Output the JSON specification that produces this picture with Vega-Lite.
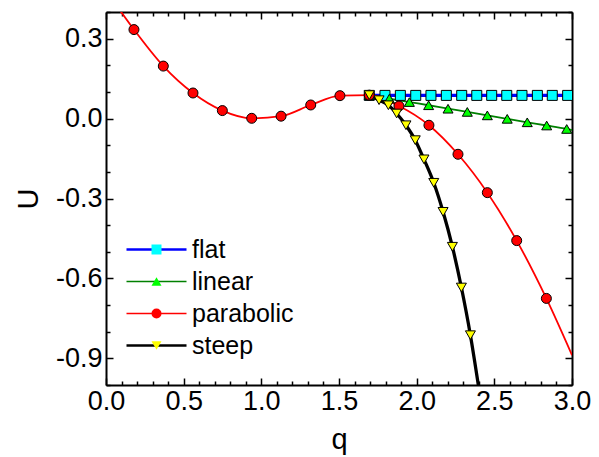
{
  "$schema": "https://vega.github.io/schema/vega-lite/v6.json",
  "width": 466,
  "height": 373,
  "autosize": {"type": "none"},
  "padding": {"left": 106, "top": 12, "right": 27, "bottom": 72},
  "background": "white",
  "config": {
    "view": {"stroke": null},
    "font": "Liberation Sans",
    "axis": {
      "grid": false,
      "domainColor": "#000000",
      "domainWidth": 2,
      "tickColor": "#000000",
      "tickWidth": 1.5,
      "labelFont": "Liberation Sans",
      "labelFontSize": 27,
      "labelColor": "#000000",
      "labelOverlap": false,
      "labelFlush": false,
      "titleFont": "Liberation Sans",
      "titleFontSize": 29,
      "titleFontWeight": "normal",
      "titleColor": "#000000"
    }
  },
  "datasets": {
    "curves": [
      {"series": "flat", "q": 1.695, "U": 0.087},
      {"series": "flat", "q": 3.0, "U": 0.087},
      {"series": "linear", "q": 1.695, "U": 0.088},
      {"series": "linear", "q": 1.824, "U": 0.075},
      {"series": "linear", "q": 1.953, "U": 0.062},
      {"series": "linear", "q": 2.077, "U": 0.05},
      {"series": "linear", "q": 2.202, "U": 0.037},
      {"series": "linear", "q": 2.326, "U": 0.025},
      {"series": "linear", "q": 2.455, "U": 0.012},
      {"series": "linear", "q": 2.583, "U": -0.001},
      {"series": "linear", "q": 2.712, "U": -0.014},
      {"series": "linear", "q": 2.837, "U": -0.026},
      {"series": "linear", "q": 2.966, "U": -0.039},
      {"series": "linear", "q": 3.0, "U": -0.043},
      {"series": "parabolic", "q": 0.095, "U": 0.402},
      {"series": "parabolic", "q": 0.18, "U": 0.334},
      {"series": "parabolic", "q": 0.369, "U": 0.197},
      {"series": "parabolic", "q": 0.56, "U": 0.096},
      {"series": "parabolic", "q": 0.749, "U": 0.03},
      {"series": "parabolic", "q": 0.938, "U": 0.001},
      {"series": "parabolic", "q": 1.127, "U": 0.009},
      {"series": "parabolic", "q": 1.318, "U": 0.051},
      {"series": "parabolic", "q": 1.506, "U": 0.086},
      {"series": "parabolic", "q": 1.695, "U": 0.088},
      {"series": "parabolic", "q": 1.886, "U": 0.047},
      {"series": "parabolic", "q": 2.079, "U": -0.025},
      {"series": "parabolic", "q": 2.266, "U": -0.134},
      {"series": "parabolic", "q": 2.455, "U": -0.278},
      {"series": "parabolic", "q": 2.644, "U": -0.458},
      {"series": "parabolic", "q": 2.835, "U": -0.675},
      {"series": "parabolic", "q": 3.0, "U": -0.888},
      {"series": "steep", "q": 1.695, "U": 0.088},
      {"series": "steep", "q": 1.758, "U": 0.069},
      {"series": "steep", "q": 1.818, "U": 0.05},
      {"series": "steep", "q": 1.871, "U": 0.019},
      {"series": "steep", "q": 1.931, "U": -0.025},
      {"series": "steep", "q": 1.991, "U": -0.081},
      {"series": "steep", "q": 2.047, "U": -0.153},
      {"series": "steep", "q": 2.11, "U": -0.241},
      {"series": "steep", "q": 2.17, "U": -0.35},
      {"series": "steep", "q": 2.23, "U": -0.481},
      {"series": "steep", "q": 2.288, "U": -0.634},
      {"series": "steep", "q": 2.346, "U": -0.813},
      {"series": "steep", "q": 2.397, "U": -1.0}
    ],
    "markers": [
      {"series": "flat", "q": 1.695, "U": 0.087},
      {"series": "flat", "q": 1.796, "U": 0.087},
      {"series": "flat", "q": 1.895, "U": 0.087},
      {"series": "flat", "q": 1.994, "U": 0.087},
      {"series": "flat", "q": 2.092, "U": 0.087},
      {"series": "flat", "q": 2.191, "U": 0.087},
      {"series": "flat", "q": 2.29, "U": 0.087},
      {"series": "flat", "q": 2.387, "U": 0.087},
      {"series": "flat", "q": 2.483, "U": 0.087},
      {"series": "flat", "q": 2.58, "U": 0.087},
      {"series": "flat", "q": 2.678, "U": 0.087},
      {"series": "flat", "q": 2.777, "U": 0.087},
      {"series": "flat", "q": 2.873, "U": 0.087},
      {"series": "flat", "q": 2.972, "U": 0.087},
      {"series": "linear", "q": 1.695, "U": 0.088},
      {"series": "linear", "q": 1.824, "U": 0.075},
      {"series": "linear", "q": 1.953, "U": 0.062},
      {"series": "linear", "q": 2.077, "U": 0.05},
      {"series": "linear", "q": 2.202, "U": 0.037},
      {"series": "linear", "q": 2.326, "U": 0.025},
      {"series": "linear", "q": 2.455, "U": 0.012},
      {"series": "linear", "q": 2.583, "U": -0.001},
      {"series": "linear", "q": 2.712, "U": -0.014},
      {"series": "linear", "q": 2.837, "U": -0.026},
      {"series": "linear", "q": 2.966, "U": -0.039},
      {"series": "parabolic", "q": 0.18, "U": 0.334},
      {"series": "parabolic", "q": 0.369, "U": 0.197},
      {"series": "parabolic", "q": 0.56, "U": 0.096},
      {"series": "parabolic", "q": 0.749, "U": 0.03},
      {"series": "parabolic", "q": 0.938, "U": 0.001},
      {"series": "parabolic", "q": 1.127, "U": 0.009},
      {"series": "parabolic", "q": 1.318, "U": 0.051},
      {"series": "parabolic", "q": 1.506, "U": 0.086},
      {"series": "parabolic", "q": 1.695, "U": 0.088},
      {"series": "parabolic", "q": 1.886, "U": 0.047},
      {"series": "parabolic", "q": 2.079, "U": -0.025},
      {"series": "parabolic", "q": 2.266, "U": -0.134},
      {"series": "parabolic", "q": 2.455, "U": -0.278},
      {"series": "parabolic", "q": 2.644, "U": -0.458},
      {"series": "parabolic", "q": 2.835, "U": -0.675},
      {"series": "steep", "q": 1.695, "U": 0.088},
      {"series": "steep", "q": 1.758, "U": 0.069},
      {"series": "steep", "q": 1.818, "U": 0.05},
      {"series": "steep", "q": 1.871, "U": 0.019},
      {"series": "steep", "q": 1.931, "U": -0.025},
      {"series": "steep", "q": 1.991, "U": -0.081},
      {"series": "steep", "q": 2.047, "U": -0.153},
      {"series": "steep", "q": 2.11, "U": -0.241},
      {"series": "steep", "q": 2.17, "U": -0.35},
      {"series": "steep", "q": 2.23, "U": -0.481},
      {"series": "steep", "q": 2.288, "U": -0.634},
      {"series": "steep", "q": 2.346, "U": -0.813}
    ]
  },
  "layer": [
    {
      "data": {"name": "curves"},
      "transform": [{"filter": "datum.series === 'flat' || datum.series === 'steep'"}],
      "mark": {"type": "line", "interpolate": "monotone", "clip": true, "strokeWidth": 3.3},
      "encoding": {
        "x": {
          "field": "q", "type": "quantitative",
          "scale": {"domain": [0, 3], "nice": false, "zero": false},
          "axis": {
            "orient": "bottom",
            "values": [0,0.1,0.2,0.3,0.4,0.5,0.6,0.7,0.8,0.9,1,1.1,1.2,1.3,1.4,1.5,1.6,1.7,1.8,1.9,2,2.1,2.2,2.3,2.4,2.5,2.6,2.7,2.8,2.9,3],
            "labelExpr": "abs(datum.value*2-round(datum.value*2))<0.001 ? format(datum.value,'.1f') : ''",
            "tickSize": {"condition": {"test": "abs(datum.value*2-round(datum.value*2))<0.001", "value": -7}, "value": -4},
            "labelPadding": 10,
            "title": "q",
            "titleY": 63,
            "titleBaseline": "alphabetic"
          }
        },
        "y": {
          "field": "U", "type": "quantitative",
          "scale": {"domain": [-1, 0.4], "nice": false, "zero": false},
          "axis": {
            "orient": "left",
            "values": [-1,-0.9,-0.8,-0.7,-0.6,-0.5,-0.4,-0.3,-0.2,-0.1,0,0.1,0.2,0.3,0.4],
            "labelExpr": "abs(datum.value/0.3-round(datum.value/0.3))<0.01 ? (datum.value<0 ? '-' + format(-datum.value,'.1f') : format(datum.value,'.1f')) : ''",
            "tickSize": {"condition": {"test": "abs(datum.value/0.3-round(datum.value/0.3))<0.01", "value": -7}, "value": -4},
            "labelPadding": 11,
            "title": "U",
            "titleAngle": -90,
            "titleAlign": "center",
            "titleBaseline": "alphabetic",
            "titleX": -69,
            "titleY": 186.5
          }
        },
        "stroke": {
          "field": "series", "type": "nominal",
          "scale": {"range": ["#0000FF", "#008000", "#FF0000", "#000000"]},
          "legend": {
            "orient": "none", "legendX": 38, "legendY": 225, "title": null, "padding": 0,
            "labelFont": "Liberation Sans", "labelFontSize": 25, "labelColor": "#000000", "labelOffset": 23,
            "symbolType": "stroke", "symbolSize": 3600, "symbolStrokeWidth": 2, "rowPadding": 6, "zindex": 1,
            "encode": {"symbols": {"update": {"strokeWidth": {"signal": "datum.value==='flat'||datum.value==='steep' ? 2.5 : 1.5"}}}}
          }
        }
      }
    },
    {
      "data": {"name": "curves"},
      "transform": [{"filter": "datum.series === 'linear' || datum.series === 'parabolic'"}],
      "mark": {"type": "line", "interpolate": "monotone", "clip": true, "strokeWidth": 1.8},
      "encoding": {
        "x": {"field": "q", "type": "quantitative", "scale": {"domain": [0, 3], "nice": false, "zero": false}, "axis": null},
        "y": {"field": "U", "type": "quantitative", "scale": {"domain": [-1, 0.4], "nice": false, "zero": false}, "axis": null},
        "stroke": {"field": "series", "type": "nominal"}
      }
    },
    {
      "data": {"name": "markers"},
      "mark": {"type": "point", "filled": true, "size": 100, "stroke": "#000000", "strokeWidth": 1, "opacity": 1, "clip": true},
      "encoding": {
        "x": {
          "field": "q", "type": "quantitative",
          "scale": {"domain": [0, 3], "nice": false, "zero": false},
          "axis": {
            "orient": "top",
            "values": [0,0.1,0.2,0.3,0.4,0.5,0.6,0.7,0.8,0.9,1,1.1,1.2,1.3,1.4,1.5,1.6,1.7,1.8,1.9,2,2.1,2.2,2.3,2.4,2.5,2.6,2.7,2.8,2.9,3],
            "labels": false,
            "tickSize": {"condition": {"test": "abs(datum.value*2-round(datum.value*2))<0.001", "value": -7}, "value": -4},
            "title": null
          }
        },
        "y": {
          "field": "U", "type": "quantitative",
          "scale": {"domain": [-1, 0.4], "nice": false, "zero": false},
          "axis": {
            "orient": "right",
            "values": [-1,-0.9,-0.8,-0.7,-0.6,-0.5,-0.4,-0.3,-0.2,-0.1,0,0.1,0.2,0.3,0.4],
            "labels": false,
            "tickSize": {"condition": {"test": "abs(datum.value/0.3-round(datum.value/0.3))<0.01", "value": -7}, "value": -4},
            "title": null
          }
        },
        "fill": {
          "field": "series", "type": "nominal",
          "scale": {"range": ["#00FFFF", "#00FF00", "#FF0000", "#FFFF00"]},
          "legend": {
            "orient": "none", "legendX": 38, "legendY": 225, "title": null, "padding": 0,
            "labelFont": "Liberation Sans", "labelFontSize": 25, "labelColor": "transparent", "labelOffset": 23,
            "symbolSize": 100, "symbolStrokeColor": "#000000", "symbolStrokeWidth": 1, "rowPadding": 6, "zindex": 2,
            "encode": {"symbols": {"update": {"stroke": {"value": "#000000"}, "strokeWidth": {"value": 1}}}}
          }
        },
        "shape": {
          "field": "series", "type": "nominal",
          "scale": {"range": ["square", "triangle-up", "circle", "triangle-down"]},
          "legend": {
            "orient": "none", "legendX": 38, "legendY": 225, "title": null, "padding": 0,
            "labelFont": "Liberation Sans", "labelFontSize": 25, "labelColor": "transparent", "labelOffset": 23,
            "symbolSize": 100, "symbolStrokeColor": "#000000", "symbolStrokeWidth": 1, "rowPadding": 6, "zindex": 2,
            "encode": {"symbols": {"update": {"stroke": {"value": "#000000"}, "strokeWidth": {"value": 1}}}}
          }
        }
      }
    }
  ],
  "resolve": {"axis": {"x": "independent", "y": "independent"}}
}
